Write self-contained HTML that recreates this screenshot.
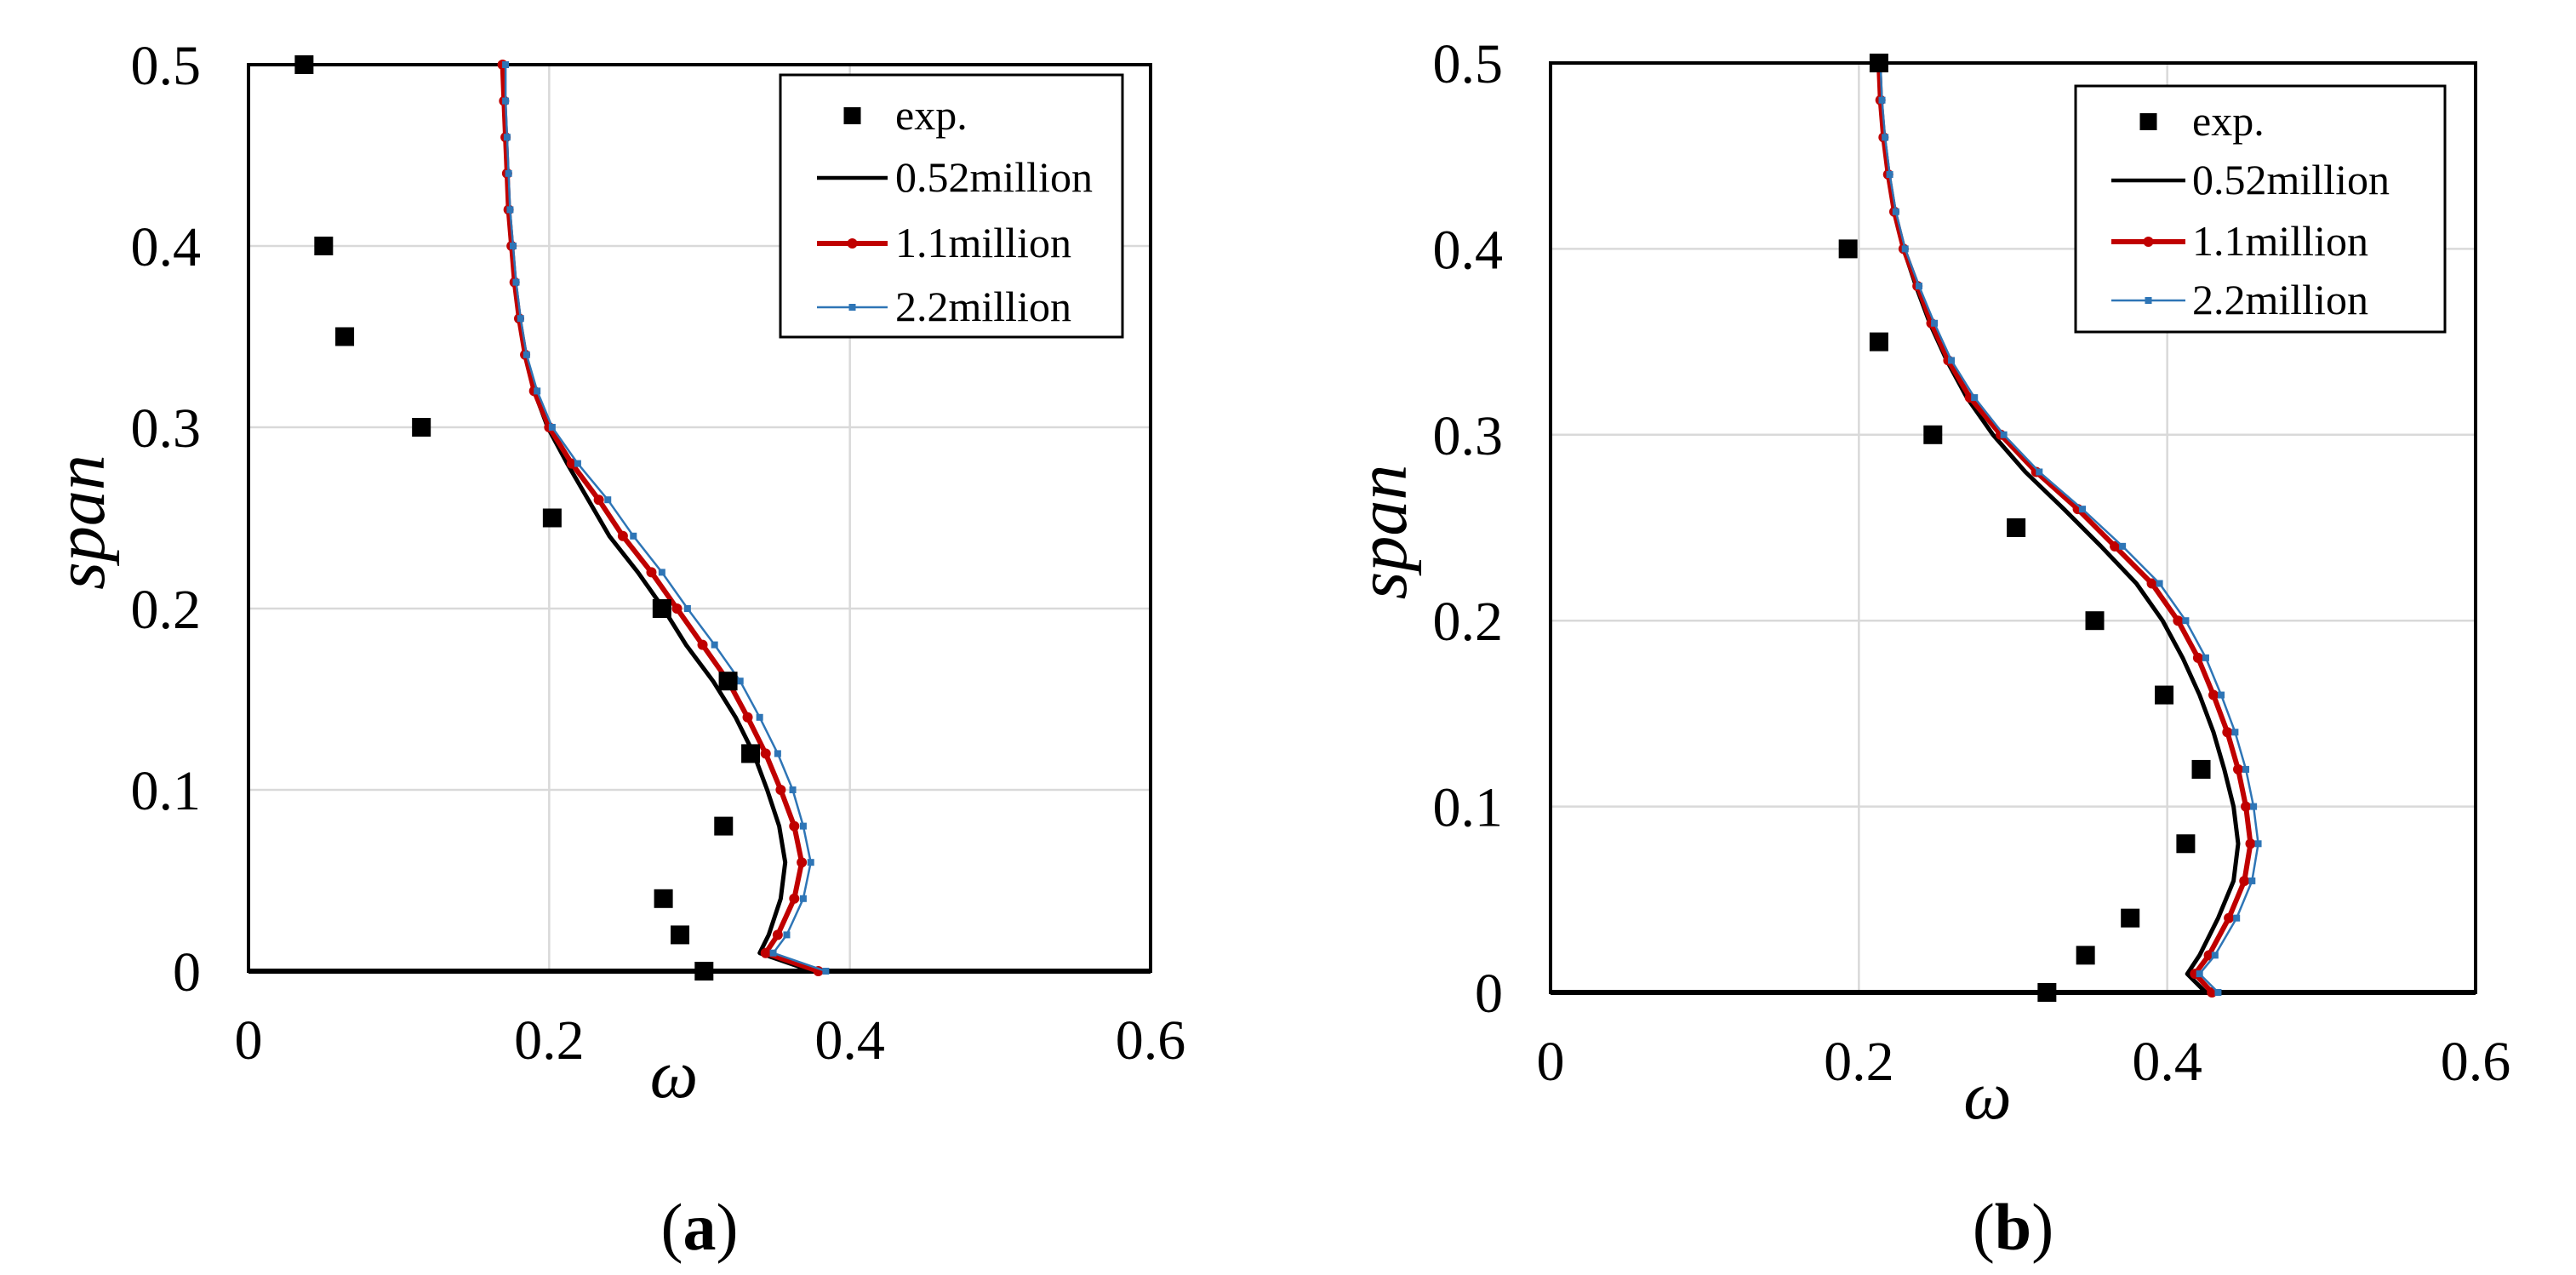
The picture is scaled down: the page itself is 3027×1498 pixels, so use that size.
<!DOCTYPE html>
<html><head><meta charset="utf-8"><style>
html,body{margin:0;padding:0;background:#fff;}
svg{display:block;}
svg text{font-family:"Liberation Serif","Times New Roman","DejaVu Serif",serif;}
</style></head><body>
<svg id="fig" width="3027" height="1498" viewBox="0 0 3027 1498" xmlns="http://www.w3.org/2000/svg"></svg>
<script>
const ys=[0,0.01,0.02,0.04,0.06,0.08,0.10,0.12,0.14,0.16,0.18,0.20,0.22,0.24,0.26,0.28,0.30,0.32,0.34,0.36,0.38,0.40,0.42,0.44,0.46,0.48,0.50];
const expYA=[0.5,0.4,0.35,0.3,0.25,0.2,0.16,0.12,0.08,0.04,0.02,0];
const expXA=[0.037,0.050,0.064,0.115,0.202,0.275,0.319,0.334,0.316,0.276,0.287,0.303];
const blackA=[.375,.340,.346,.354,.357,.353,.345,.336,.324,.309,.291,.276,.259,.240,.226,.212,.199,.190,.184,.180,.177,.175,.173,.172,.171,.170,.170];
const redA=[.379,.344,.352,.363,.368,.363,.354,.344,.332,.319,.302,.285,.268,.249,.233,.215,.200,.190,.184,.180,.177,.175,.173,.172,.171,.170,.169];
const blueA=[.384,.349,.358,.369,.374,.369,.362,.352,.340,.327,.310,.292,.275,.256,.239,.219,.202,.192,.185,.181,.178,.176,.174,.173,.172,.171,.171];
const expYB=[0.5,0.4,0.35,0.3,0.25,0.2,0.16,0.12,0.08,0.04,0.02,0];
const expXB=[0.213,0.193,0.213,0.248,0.302,0.353,0.398,0.422,0.412,0.376,0.347,0.322];
const blackB=[.425,.413,.421,.433,.443,.446,.443,.437,.430,.421,.410,.397,.380,.357,.333,.308,.287,.270,.257,.246,.237,.229,.223,.219,.216,.214,.213];
const redB=[.429,.418,.427,.440,.450,.454,.451,.446,.439,.430,.420,.407,.390,.366,.342,.315,.292,.272,.258,.247,.238,.229,.223,.219,.216,.214,.213];
const blueB=[.433,.421,.431,.445,.455,.459,.456,.451,.444,.435,.425,.412,.395,.371,.345,.317,.294,.275,.260,.249,.239,.230,.224,.220,.217,.215,.214];
const xTicks=["0","0.2","0.4","0.6"];
const yTicks=["0","0.1","0.2","0.3","0.4","0.5"];
const NS="http://www.w3.org/2000/svg";
const svg=document.getElementById('fig');
function mk(tag,attrs,parent){const e=document.createElementNS(NS,tag);for(const k in attrs)e.setAttribute(k,attrs[k]);(parent||svg).appendChild(e);return e;}
function chart(P){
  const g=mk('g',{});
  
  
  const X=v=>P.l+(P.r-P.l)*v/0.6, Y=v=>P.b-(P.b-P.t)*v/0.5;
  for(let i=1;i<4;i++){const l=mk('line',{x1:X(i*0.2),x2:X(i*0.2),y1:P.t,y2:P.b,stroke:'#d9d9d9','stroke-width':2.5},g);
    }
  for(let i=1;i<6;i++){const l=mk('line',{x1:P.l,x2:P.r,y1:Y(i*0.1),y2:Y(i*0.1),stroke:'#d9d9d9','stroke-width':2.5},g);
    }
  const fr=mk('rect',{x:P.l,y:P.t,width:P.r-P.l,height:P.b-P.t,fill:'none',stroke:'#000','stroke-width':4},g);
  
  const ax=mk('line',{x1:P.l,x2:P.r,y1:P.b,y2:P.b,stroke:'#000','stroke-width':6},g);
  
  xTicks.forEach((t,i)=>{const e=mk('text',{x:X(i*0.2),y:P.b+103,'font-size':66,'text-anchor':'middle',fill:'#000'},g);e.textContent=t;
    });
  yTicks.forEach((t,i)=>{const e=mk('text',{x:P.l-56,y:Y(i*0.1)+23,'font-size':66,'text-anchor':'end',fill:'#000'},g);e.textContent=t;
    });
  let e=mk('text',{x:(P.l+P.r)/2-30,y:P.b+148,'font-size':80,'font-style':'italic','text-anchor':'middle'},g);e.textContent='ω';
  
  e=mk('text',{x:0,y:0,'font-size':84,'font-style':'italic','text-anchor':'middle',transform:`translate(${P.l-170},${(P.t+P.b)/2+5}) rotate(-90)`},g);e.textContent='span';
  
  e=mk('text',{x:(P.l+P.r)/2,y:1468,'font-size':78,'text-anchor':'middle'},g);
  e.innerHTML='(<tspan font-weight="bold">'+P.id+'</tspan>)';
  
  const series=[{d:P.black,c:'#000',w:5,m:null,n:'series-0-52million'},{d:P.red,c:'#c00000',w:6,m:'dot',n:'series-1-1million'},{d:P.blue,c:'#2e75b6',w:2.5,m:'sq',n:'series-2-2million'}];
  series.forEach(s=>{
    const pts=s.d.map((v,i)=>X(v).toFixed(1)+','+Y(ys[i]).toFixed(1)).join(' ');
    const pl=mk('polyline',{points:pts,fill:'none',stroke:s.c,'stroke-width':s.w,'stroke-linejoin':'round'},g);
    
    if(s.m){s.d.forEach((v,i)=>{
      const m=s.m==='dot'?mk('circle',{cx:X(v),cy:Y(ys[i]),r:6,fill:s.c},g):mk('rect',{x:X(v)-4,y:Y(ys[i])-4,width:8,height:8,fill:s.c},g);
      });}
  });
  P.ex.forEach((v,i)=>{const m=mk('rect',{x:X(v)-11,y:Y(P.ey[i])-11,width:22,height:22,fill:'#000'},g);
    });
  const L=P.leg;
  const lg=mk('g',{},g);
  const lb=mk('rect',{x:L.x,y:L.y,width:L.w,height:L.h,fill:'#fff',stroke:'#000','stroke-width':3},lg);
  
  const labels=['exp.','0.52million','1.1million','2.2million'];
  labels.forEach((t,i)=>{
    const yy=L.rows[i];
    if(i===0){const m=mk('rect',{x:(L.lx1+L.lx2)/2-10,y:yy-10,width:20,height:20,fill:'#000'},lg);}
    else{const c=[null,'#000','#c00000','#2e75b6'][i],w=[0,4.5,6,2.5][i];
      const ln=mk('line',{x1:L.lx1,x2:L.lx2,y1:yy,y2:yy,stroke:c,'stroke-width':w},lg);
      if(i===2){const m=mk('circle',{cx:(L.lx1+L.lx2)/2,cy:yy,r:6,fill:c},lg);}
      if(i===3){const m=mk('rect',{x:(L.lx1+L.lx2)/2-4,y:yy-4,width:8,height:8,fill:c},lg);}}
    const te=mk('text',{x:L.tx,y:yy+16,'font-size':50},lg);te.textContent=t;
    
  });
}
chart({id:'a',l:292,r:1352,t:76,b:1141,ex:expXA,ey:expYA,black:blackA,red:redA,blue:blueA,
  leg:{x:917,y:88,w:402,h:308,lx1:960,lx2:1043,tx:1052,rows:[136,209,286,361]}});
chart({id:'b',l:1822,r:2909,t:74,b:1166,ex:expXB,ey:expYB,black:blackB,red:redB,blue:blueB,
  leg:{x:2439,y:101,w:434,h:289,lx1:2481,lx2:2568,tx:2576,rows:[143,212,284,353]}});
</script>
</body></html>
